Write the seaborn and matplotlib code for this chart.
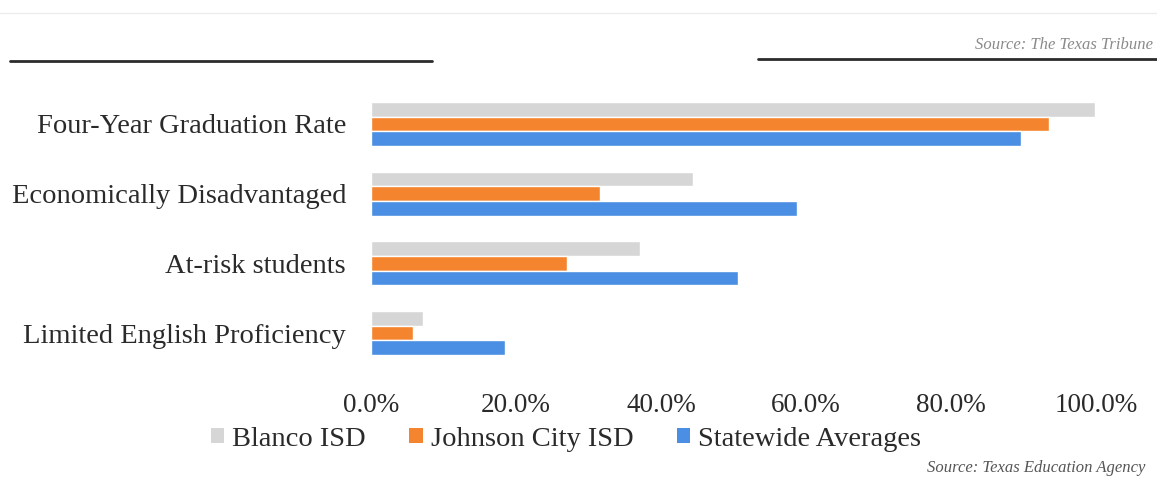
import matplotlib
matplotlib.use("Agg")
import matplotlib.pyplot as plt
from matplotlib.lines import Line2D
from matplotlib.patches import Patch
from matplotlib.ticker import PercentFormatter
import seaborn as sns
import pandas as pd

# Share of students in each group, by district
categories = [
    "Four-Year Graduation Rate",
    "Economically Disadvantaged",
    "At-risk students",
    "Limited English Proficiency",
]
series = ["Blanco ISD", "Johnson City ISD", "Statewide Averages"]
blanco = [0.998, 0.444, 0.371, 0.072]
johnson_city = [0.935, 0.316, 0.270, 0.058]
statewide = [0.897, 0.588, 0.506, 0.185]
x_ticks = [0.0, 0.2, 0.4, 0.6, 0.8, 1.0]

colors = ["#d6d6d6", "#f5842e", "#4a8fe3"]

df = pd.DataFrame({
    "category": categories * 3,
    "series": [s for s in series for _ in categories],
    "value": blanco + johnson_city + statewide,
})

sns.set_theme(style="white")
plt.rcParams["font.family"] = ["Liberation Serif", "DejaVu Serif"]

fig = plt.figure(figsize=(11.57, 4.79), dpi=100)
ax = fig.add_axes([371 / 1157, 0.232, 725 / 1157, 0.582])

sns.barplot(
    data=df, y="category", x="value", hue="series",
    order=categories, hue_order=series, palette=colors,
    orient="h", width=0.63, gap=0, saturation=1,
    errorbar=None, legend=False, ax=ax,
)

ax.set_xlim(0, 1.0)
ax.set_ylim(3.5, -0.5)
ax.set_xticks(x_ticks)
ax.xaxis.set_major_formatter(PercentFormatter(xmax=1.0, decimals=1))
ax.set_xlabel("")
ax.set_ylabel("")
ax.tick_params(axis="x", length=0, pad=18, labelsize=19.5, labelcolor="#2a2a2a")
ax.tick_params(axis="y", length=0, pad=18, labelsize=20.5, labelcolor="#2a2a2a")
for spine in ax.spines.values():
    spine.set_visible(False)
ax.grid(False)

# Legend below the axis
handles = [Patch(facecolor=c, edgecolor="none") for c in colors]
fig.legend(
    handles, series, loc="center", bbox_to_anchor=(566 / 1157, 1 - 439 / 479),
    ncol=3, frameon=False, fontsize=20.5, handlelength=0.46, handleheight=0.46,
    handletextpad=0.28, columnspacing=1.55, labelcolor="#2a2a2a",
    borderpad=0, borderaxespad=0,
)

# Header rules and source notes
fig.add_artist(Line2D([10 / 1157, 432 / 1157], [1 - 61 / 479] * 2,
                      color="#2b2b2b", lw=2.0, transform=fig.transFigure))
fig.add_artist(Line2D([758 / 1157, 1.0], [1 - 59 / 479] * 2,
                      color="#2b2b2b", lw=2.0, transform=fig.transFigure))
fig.add_artist(Line2D([0.0, 1.0], [1 - 13 / 479] * 2,
                      color="#ececec", lw=1.0, transform=fig.transFigure))
fig.text(1153 / 1157, 1 - 45 / 479, "Source: The Texas Tribune",
         fontsize=12, style="italic", color="#8a8a8a", va="center", ha="right")
fig.text(1145 / 1157, 1 - 468 / 479, "Source: Texas Education Agency",
         fontsize=12, style="italic", color="#555555", va="center", ha="right")

fig.savefig("out.png", dpi=100, facecolor="white")
